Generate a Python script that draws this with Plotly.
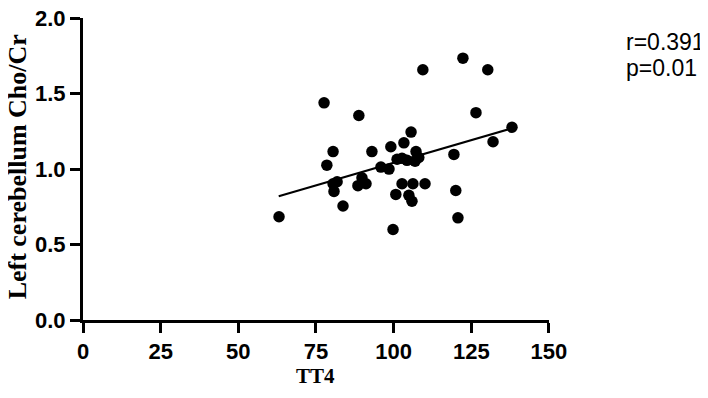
import plotly.graph_objects as go

# Data
tt4 = [63.1, 77.6, 78.5, 80.5, 80.5, 81.8, 80.8, 83.7, 88.8, 93.0,
       89.8, 88.5, 91.1, 95.9, 98.5, 99.1, 103.3, 105.6, 107.2, 101.1,
       102.7, 104.3, 106.9, 108.1, 102.7, 106.2, 110.1, 100.7, 104.9, 105.9,
       99.8, 109.4, 122.3, 130.3, 126.5, 138.1, 132.0, 119.4, 120.0, 120.7]
cho_cr = [0.684, 1.439, 1.026, 1.116, 0.903, 0.916, 0.852, 0.755, 1.355, 1.116,
          0.942, 0.890, 0.903, 1.013, 1.000, 1.148, 1.174, 1.245, 1.116, 1.065,
          1.071, 1.058, 1.052, 1.077, 0.903, 0.903, 0.903, 0.832, 0.826, 0.787,
          0.600, 1.658, 1.735, 1.658, 1.374, 1.277, 1.181, 1.097, 0.858, 0.677]

fit_x = [63.0, 138.1]
fit_y = [0.82, 1.27]

x_ticks = [0, 25, 50, 75, 100, 125, 150]
y_ticks = [0.0, 0.5, 1.0, 1.5, 2.0]
y_tick_labels = ["0.0", "0.5", "1.0", "1.5", "2.0"]

fig = go.Figure()
fig.add_trace(go.Scatter(x=fit_x, y=fit_y, mode="lines",
                         line=dict(color="black", width=2), showlegend=False))
fig.add_trace(go.Scatter(x=tt4, y=cho_cr, mode="markers",
                         marker=dict(color="black", size=11.5), showlegend=False))

tick_font = dict(family="Liberation Sans, Arial", size=22, color="black", weight="bold")
title_font_y = dict(family="Liberation Serif, Times New Roman", size=26, color="black", weight="bold")
title_font_x = dict(family="Liberation Serif, Times New Roman", size=21, color="black", weight="bold")
stat_font = dict(family="Liberation Sans, Arial", size=23, color="black")

fig.update_layout(
    width=700, height=390,
    margin=dict(l=75, r=159, t=10, b=78, autoexpand=False),
    plot_bgcolor="white", paper_bgcolor="white",
    xaxis=dict(range=[0, 150.01], tickvals=x_ticks, showgrid=False, zeroline=False,
               showline=True, linecolor="black", linewidth=3,
               ticks="outside", ticklen=10, tickwidth=3, tickcolor="black",
               tickfont=tick_font, automargin=False, ticklabeloverflow="allow"),
    yaxis=dict(range=[0, 2.001], tickvals=y_ticks, ticktext=y_tick_labels,
               showgrid=False, zeroline=False,
               showline=True, linecolor="black", linewidth=3,
               ticks="outside", ticklen=10, tickwidth=3, tickcolor="black",
               tickfont=tick_font, automargin=False, ticklabeloverflow="allow"),
    annotations=[
        dict(text="Left cerebellum Cho/Cr", textangle=-90, xref="paper", yref="paper",
             x=-0.176, y=0.507, xanchor="left", yanchor="middle", showarrow=False,
             font=title_font_y),
        dict(text="TT4", xref="paper", yref="paper",
             x=0.498, y=-0.185, xanchor="center", yanchor="middle", showarrow=False,
             font=title_font_x),
        dict(text="r=0.391", xref="paper", yref="paper",
             x=1.161, y=0.921, xanchor="left", yanchor="middle", showarrow=False,
             font=stat_font),
        dict(text="p=0.01", xref="paper", yref="paper",
             x=1.161, y=0.836, xanchor="left", yanchor="middle", showarrow=False,
             font=stat_font),
    ],
)

fig.write_html("out.html")
